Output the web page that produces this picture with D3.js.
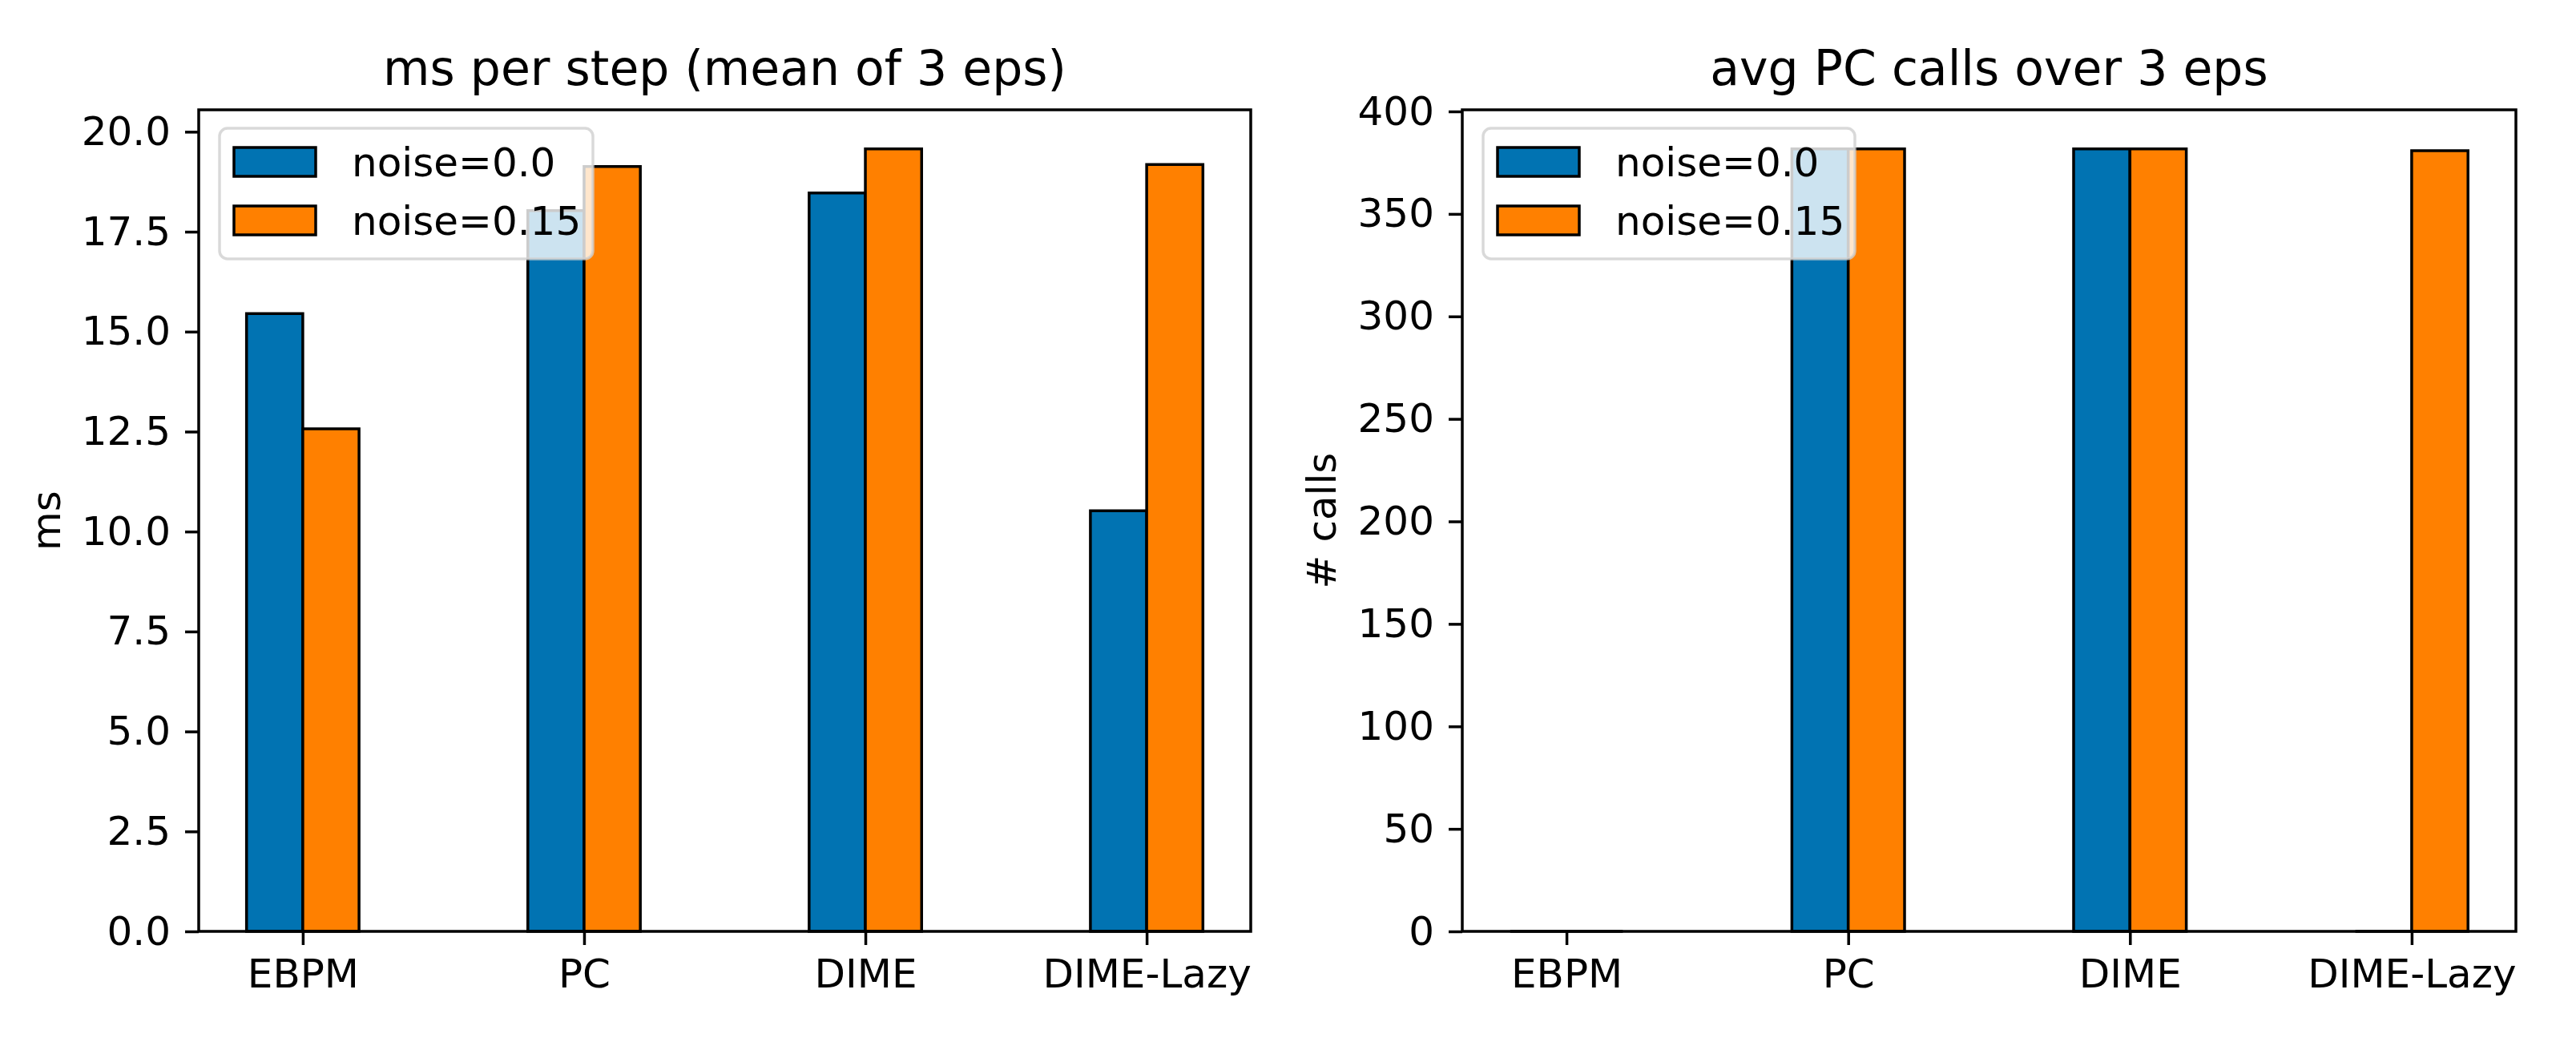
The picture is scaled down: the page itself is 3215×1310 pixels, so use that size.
<!DOCTYPE html>
<html>
<head>
<meta charset="utf-8">
<script src="https://cdn.jsdelivr.net/npm/d3@7"></script>
<style>
  body { margin: 0; background: #fff; }
  text { font-family: "DejaVu Sans", sans-serif; fill: #000; }
</style>
</head>
<body>
<div id="chart"></div>
<script>
// Data
var methods = ["EBPM", "PC", "DIME", "DIME-Lazy"];
var seriesNames = ["noise=0.0", "noise=0.15"];
var msNoise0 = [15.45, 18.03, 18.47, 10.52];
var msNoise15 = [12.57, 19.13, 19.57, 19.18];
var callsNoise0 = [0, 381.7, 381.7, 0];
var callsNoise15 = [0, 381.7, 381.7, 380.8];
var msTicks = [0, 2.5, 5, 7.5, 10, 12.5, 15, 17.5, 20];
var callTicks = [0, 50, 100, 150, 200, 250, 300, 350, 400];

var colors = ["#0173b2", "#ff8000"];

//Width and height
var w = 3215;
var h = 1310;

var svg = d3.select("#chart")
            .append("svg")
            .attr("width", w)
            .attr("height", h);

svg.append("rect").attr("width", w).attr("height", h).attr("fill", "#fff");

function drawPanel(opts) {
    var left = opts.left, right = opts.right, top = 137, bottom = 1162;
    var barW = 0.2;

    var x = d3.scaleLinear()
              .domain([-barW - 0.17, methods.length - 1 + barW + 0.17])
              .range([left, right]);

    var maxV = d3.max(opts.series, function(s) { return d3.max(s); });
    var y = d3.scaleLinear()
              .domain([0, maxV * 1.05])
              .range([bottom, top]);

    var g = svg.append("g");

    //Bars, drawn as paths so zero-height bars still show their edge
    opts.series.forEach(function(vals, si) {
        g.selectAll(null)
         .data(vals)
         .enter()
         .append("path")
         .attr("d", function(d, i) {
             var x0 = x(i + (si - 1) * barW), x1 = x(i + si * barW);
             var y0 = y(0), y1 = y(d);
             return "M" + x0 + "," + y0 + "L" + x0 + "," + y1 + "L" + x1 + "," + y1 + "L" + x1 + "," + y0 + "Z";
         })
         .attr("fill", colors[si])
         .attr("stroke", "#000")
         .attr("stroke-width", 3.5)
         .attr("stroke-linejoin", "miter");
    });

    //Axes
    var yAxis = d3.axisLeft(y)
                  .tickValues(opts.ticks)
                  .tickFormat(opts.fmt)
                  .tickSizeOuter(0)
                  .tickSize(17)
                  .tickPadding(18);
    var ya = g.append("g").attr("transform", "translate(" + left + ",0)").call(yAxis);

    var xAxis = d3.axisBottom(x)
                  .tickValues(d3.range(methods.length))
                  .tickFormat(function(d) { return methods[d]; })
                  .tickSizeOuter(0)
                  .tickSize(17)
                  .tickPadding(17);
    var xa = g.append("g").attr("transform", "translate(0," + bottom + ")").call(xAxis);

    [ya, xa].forEach(function(a) {
        a.select(".domain").remove();
        a.selectAll(".tick line").attr("stroke", "#000").attr("stroke-width", 3.5);
        a.selectAll(".tick text").style("font-size", "50px").attr("fill", "#000");
    });

    //Spines
    g.append("rect")
     .attr("x", left).attr("y", top)
     .attr("width", right - left).attr("height", bottom - top)
     .attr("fill", "none")
     .attr("stroke", "#000")
     .attr("stroke-width", 3.5);

    //Title
    g.append("text")
     .attr("x", (left + right) / 2)
     .attr("y", 106)
     .attr("text-anchor", "middle")
     .style("font-size", "60px")
     .text(opts.title);

    //Y label
    g.append("text")
     .attr("transform", "translate(" + opts.labelX + "," + (top + bottom) / 2 + ") rotate(-90)")
     .attr("text-anchor", "middle")
     .style("font-size", "50px")
     .text(opts.ylabel);

    //Legend
    var lx = left + 26, ly = top + 23;
    var lg = g.append("g").attr("transform", "translate(" + lx + "," + ly + ")");
    lg.append("rect")
      .attr("width", opts.legendW).attr("height", 163)
      .attr("rx", 10).attr("ry", 10)
      .attr("fill", "#fff").attr("fill-opacity", 0.8)
      .attr("stroke", "#d0d0d0").attr("stroke-opacity", 0.8)
      .attr("stroke-width", 3.5);

    seriesNames.forEach(function(name, si) {
        var cy = 42 + si * 73;
        lg.append("rect")
          .attr("x", 18).attr("y", cy - 18)
          .attr("width", 102).attr("height", 36)
          .attr("fill", colors[si])
          .attr("stroke", "#000").attr("stroke-width", 3.5);
        lg.append("text")
          .attr("x", 165).attr("y", cy + 18)
          .style("font-size", "50px")
          .text(name);
    });
}

drawPanel({
    left: 248, right: 1561,
    series: [msNoise0, msNoise15],
    ticks: msTicks,
    fmt: d3.format(".1f"),
    title: "ms per step (mean of 3 eps)",
    ylabel: "ms",
    labelX: 75,
    legendW: 466
});

drawPanel({
    left: 1825, right: 3140,
    series: [callsNoise0, callsNoise15],
    ticks: callTicks,
    fmt: d3.format("d"),
    title: "avg PC calls over 3 eps",
    ylabel: "# calls",
    labelX: 1667,
    legendW: 464
});
</script>
</body>
</html>
